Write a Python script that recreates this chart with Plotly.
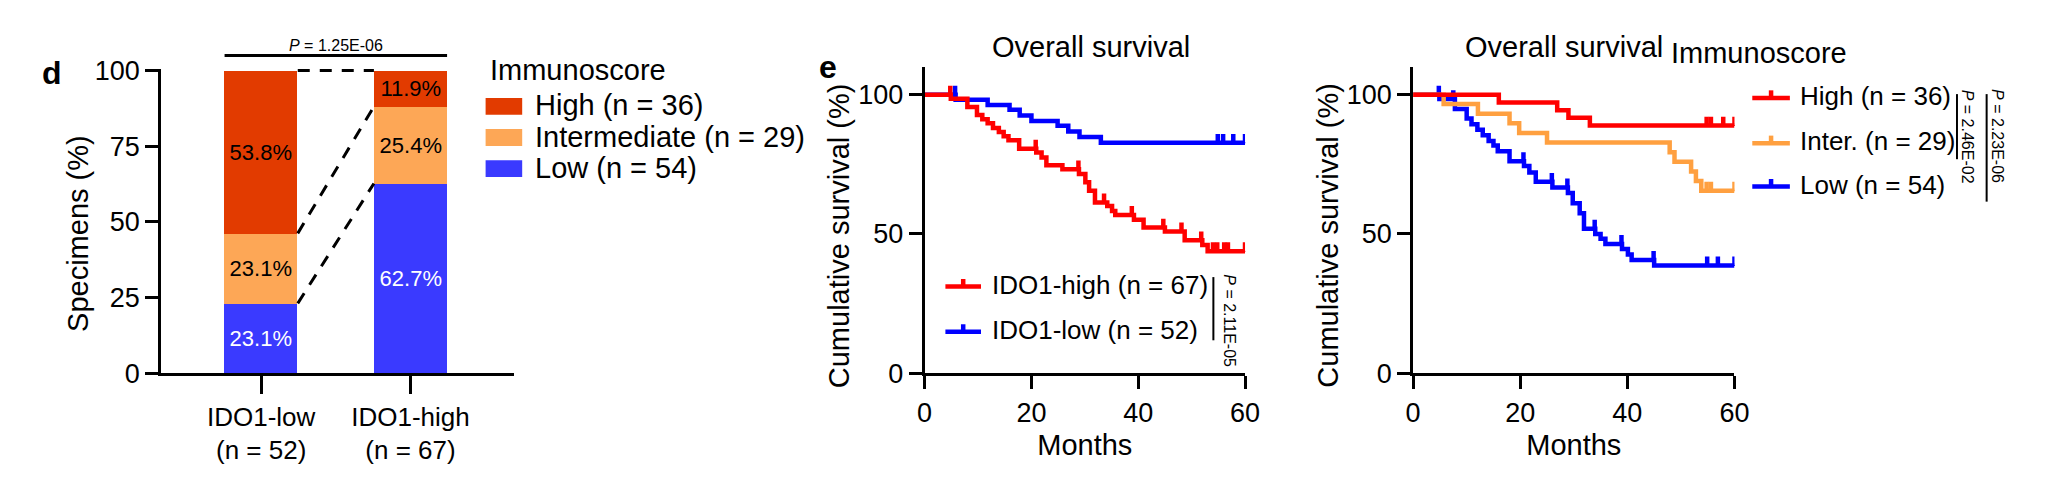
import plotly.graph_objects as go

# ---------------- data ----------------
# Panel d: Immunoscore distribution (%) within IDO1 groups
ido1_groups = ["IDO1-low<br>(n = 52)", "IDO1-high<br>(n = 67)"]
score_names = ["High (n = 36)", "Intermediate (n = 29)", "Low (n = 54)"]
pct_high = [53.8, 11.9]
pct_inter = [23.1, 25.4]
pct_low = [23.1, 62.7]
p_distribution = "1.25E-06"

# Panel e (left): overall survival by IDO1 expression
FOLLOW_UP = 60
ido1_high_name = "IDO1-high (n = 67)"
ido1_high_t = [0, 4.9, 8.0, 9.8, 10.8, 11.8, 12.8, 13.9, 14.8, 15.7, 17.7, 20.9, 21.9, 22.8,
               25.8, 28.9, 30.1, 30.8, 31.9, 34.2, 35.1, 35.7, 39.2, 41.0, 45.0, 48.7, 52.0, 53.0]
ido1_high_s = [100, 98.5, 95.6, 92.7, 91.2, 89.7, 88.0, 86.6, 85.1, 83.6, 80.6, 79.2, 77.4, 74.7,
               73.2, 71.5, 68.6, 65.5, 61.3, 60.0, 58.2, 56.8, 55.1, 52.3, 50.9, 47.7, 46.0, 43.8]
ido1_high_cens = [4.8, 20.8, 28.8, 33.6, 38.8, 44.7, 48.1, 51.8, 54.0, 54.8, 56.1, 56.8, 60]

ido1_low_name = "IDO1-low (n = 52)"
ido1_low_t = [0, 5.8, 11.8, 15.9, 17.8, 20.0, 24.9, 26.9, 29.0, 33.0]
ido1_low_s = [100, 98.2, 96.3, 94.6, 92.5, 90.5, 88.8, 86.8, 84.8, 82.7]
ido1_low_cens = [5.7, 54.9, 55.9, 57.8, 60]
p_ido1 = "2.11E-05"

# Panel e (right): overall survival by Immunoscore
is_high_name = "High (n = 36)"
is_high_t = [0, 16.0, 26.9, 29.0, 33.0]
is_high_s = [100, 97.2, 94.4, 91.7, 88.9]
is_high_cens = [54.8, 55.6, 57.9, 60]

is_inter_name = "Inter. (n = 29)"
is_inter_t = [0, 5.7, 12.1, 18.0, 19.8, 25.0, 47.9, 48.8, 51.9, 52.8, 53.8]
is_inter_s = [100, 96.6, 93.1, 89.7, 86.2, 82.8, 79.3, 75.9, 72.4, 69.0, 65.5]
is_inter_cens = [54.8, 55.6, 60]

is_low_name = "Low (n = 54)"
is_low_t = [0, 4.9, 7.8, 10.0, 10.9, 12.0, 13.0, 14.1, 15.0, 15.8, 18.0, 20.7, 21.7, 22.9, 26.0,
            28.9, 29.8, 31.1, 31.9, 34.0, 35.0, 35.9, 39.0, 40.1, 40.8, 45.0]
is_low_s = [100, 98.4, 94.8, 91.4, 89.4, 87.4, 85.4, 83.4, 81.7, 79.7, 76.1, 74.4, 72.1, 68.7, 66.7,
            64.7, 61.0, 57.4, 51.9, 50.0, 48.3, 46.4, 44.6, 42.6, 40.7, 38.7]
is_low_cens = [4.8, 7.5, 20.6, 25.9, 28.8, 33.9, 38.9, 44.9, 54.9, 56.9, 60]
p_high_vs_inter = "2.46E-02"
p_high_vs_low = "2.23E-06"

# ---------------- style ----------------
W, H = 2058, 493
FONT = "Liberation Sans, Arial, sans-serif"
C_HIGH, C_INTER, C_LOW = "#E23B00", "#FDA756", "#3A3AFF"
K_RED, K_ORANGE, K_BLUE = "#FF0000", "#FFA040", "#0000FF"
LW = 4.5
TICK_H = 3.2  # censor tick height, data units


def fx(p):
    return p / W


def fy(p):
    return 1 - p / H


def surv_at(t, times, surv):
    v = surv[0]
    for ti, si in zip(times, surv):
        if ti <= t:
            v = si
    return v


fig = go.Figure()

# ---- panel d: stacked bars ----
BAR_W = 0.49
for vals, name, col, tcol in [(pct_low, score_names[2], C_LOW, "white"),
                              (pct_inter, score_names[1], C_INTER, "black"),
                              (pct_high, score_names[0], C_HIGH, "black")]:
    fig.add_trace(go.Bar(
        x=ido1_groups, y=vals, name=name, width=BAR_W, marker=dict(color=col, line=dict(width=0)),
        texttemplate="%{y:.1f}%", textposition="inside", insidetextanchor="middle",
        textangle=0, constraintext="none", textfont=dict(size=22, color=tcol, family=FONT),
        showlegend=False, xaxis="x", yaxis="y"))

# dashed connectors between the two bars
bound_low = [pct_low[0], pct_low[1]]
bound_inter = [pct_low[0] + pct_inter[0], pct_low[1] + pct_inter[1]]
bound_top = [bound_inter[0] + pct_high[0], bound_inter[1] + pct_high[1]]
shapes = []
for b in (bound_low, bound_inter, bound_top):
    shapes.append(dict(type="line", xref="x", yref="y", x0=0 + BAR_W / 2, x1=1 - BAR_W / 2,
                       y0=b[0], y1=b[1], line=dict(color="black", width=3, dash="12px,10px")))
# significance bracket
shapes.append(dict(type="line", xref="x", yref="paper", x0=-BAR_W / 2, x1=1 + BAR_W / 2,
                   y0=fy(45), y1=fy(45), line=dict(color="black", width=3)))


# ---- KM curves ----
def km(times, surv, cens, color, name, xa, ya):
    fig.add_trace(go.Scatter(
        x=times + [FOLLOW_UP], y=surv + [surv[-1]], mode="lines", name=name,
        line=dict(shape="hv", width=LW, color=color), showlegend=False, xaxis=xa, yaxis=ya))
    cy = [surv_at(t, times, surv) for t in cens]
    fig.add_trace(go.Scatter(
        x=cens, y=cy, mode="markers", marker=dict(size=1, color=color), cliponaxis=False,
        error_y=dict(type="data", symmetric=False, array=[TICK_H] * len(cens),
                     arrayminus=[0] * len(cens), thickness=LW, width=0, color=color),
        showlegend=False, hoverinfo="skip", xaxis=xa, yaxis=ya))


km(ido1_low_t, ido1_low_s, ido1_low_cens, K_BLUE, ido1_low_name, "x2", "y2")
km(ido1_high_t, ido1_high_s, ido1_high_cens, K_RED, ido1_high_name, "x2", "y2")
km(is_low_t, is_low_s, is_low_cens, K_BLUE, is_low_name, "x3", "y3")
km(is_inter_t, is_inter_s, is_inter_cens, K_ORANGE, is_inter_name, "x3", "y3")
km(is_high_t, is_high_s, is_high_cens, K_RED, is_high_name, "x3", "y3")

# ---- axes ----
axis_common = dict(showline=True, linewidth=3, linecolor="black", ticks="outside", tickwidth=3,
                   tickcolor="black", showgrid=False, zeroline=False,
                   tickfont=dict(size=27, color="black", family=FONT))
title_font = dict(size=29, color="black", family=FONT)

fig.update_layout(
    xaxis=dict(**axis_common, domain=[fx(155), fx(512)], anchor="y", type="category",
               range=[-0.669, 1.695], ticklen=18),
    yaxis=dict(**axis_common, domain=[fy(382), fy(59)], anchor="x", range=[0, 100.6],
               tickvals=[0, 25, 50, 75, 100], ticklen=13),
    xaxis2=dict(**axis_common, domain=[fx(927), fx(1251)], anchor="y2", range=[0, 60],
                tickvals=[0, 20, 40, 60], ticklen=13,
                title=dict(text="Months", font=title_font, standoff=8)),
    yaxis2=dict(**axis_common, domain=[fy(382), fy(57)], anchor="x2", range=[0, 110],
                tickvals=[0, 50, 100], ticklen=13),
    xaxis3=dict(**axis_common, domain=[fx(1421), fx(1746)], anchor="y3", range=[0, 60],
                tickvals=[0, 20, 40, 60], ticklen=13,
                title=dict(text="Months", font=title_font, standoff=8)),
    yaxis3=dict(**axis_common, domain=[fy(382), fy(57)], anchor="x3", range=[0, 110],
                tickvals=[0, 50, 100], ticklen=13),
)
fig.layout.xaxis.tickfont.size = 26

# ---- annotations & legend drawings ----
ann = []


def text(x, y, s, size, xanchor="left", yanchor="middle", bold=False, angle=0):
    if bold:
        s = "<b>" + s + "</b>"
    ann.append(dict(x=fx(x), y=fy(y), xref="paper", yref="paper", text=s, showarrow=False,
                    xanchor=xanchor, yanchor=yanchor, textangle=angle,
                    font=dict(size=size, color="black", family=FONT)))


# y-axis titles (centred on the 0-100 part of each axis, as in the original)
text(70, 234, "Specimens (%)", 29, xanchor="center", angle=-90)
text(840, 236, "Cumulative survival (%)", 29, xanchor="center", angle=-90)
text(1335, 236, "Cumulative survival (%)", 29, xanchor="center", angle=-90)

text(44, 64, "d", 32, xanchor="center", bold=True)
text(829, 57, "e", 32, xanchor="center", bold=True)
text(332, 34, "<i>P</i> = " + p_distribution, 16, xanchor="center")

# panel d legend
text(485, 60, "Immunoscore", 29)
for i, (nm, col) in enumerate([(score_names[0], C_HIGH), (score_names[1], C_INTER),
                               (score_names[2], C_LOW)]):
    yc = 99 + 33 * i
    shapes.append(dict(type="rect", xref="paper", yref="paper", x0=fx(483), x1=fx(520),
                       y0=fy(yc + 9), y1=fy(yc - 9), fillcolor=col, line=dict(width=0)))
    text(531, yc - 1, nm, 29)

# panel e titles
text(1095, 36, "Overall survival", 29, xanchor="center")
text(1574, 36, "Overall survival", 29, xanchor="center")
text(1680, 42, "Immunoscore", 29)


def line_legend(x0, x1, yc, col, label, tx, size):
    shapes.append(dict(type="line", xref="paper", yref="paper", x0=fx(x0), x1=fx(x1),
                       y0=fy(yc), y1=fy(yc), line=dict(color=col, width=LW)))
    xm = (x0 + x1) / 2
    shapes.append(dict(type="line", xref="paper", yref="paper", x0=fx(xm), x1=fx(xm),
                       y0=fy(yc), y1=fy(yc - 8), line=dict(color=col, width=LW)))
    text(tx, yc - 2, label, size)


line_legend(948, 984, 290, K_RED, ido1_high_name, 993, 26)
line_legend(948, 984, 338, K_BLUE, ido1_low_name, 993, 26)
shapes.append(dict(type="line", xref="paper", yref="paper", x0=fx(1219), x1=fx(1219),
                   y0=fy(280), y1=fy(347), line=dict(color="black", width=2)))
text(1235, 326, "<i>P</i> = " + p_ido1, 16, xanchor="center", angle=90)

line_legend(1764, 1802, 90, K_RED, is_high_name, 1810, 26)
line_legend(1764, 1802, 138, K_ORANGE, is_inter_name, 1810, 26)
line_legend(1764, 1802, 184, K_BLUE, is_low_name, 1810, 26)
shapes.append(dict(type="line", xref="paper", yref="paper", x0=fx(1971), x1=fx(1971),
                   y0=fy(86), y1=fy(155), line=dict(color="black", width=2)))
shapes.append(dict(type="line", xref="paper", yref="paper", x0=fx(2001), x1=fx(2001),
                   y0=fy(86), y1=fy(200), line=dict(color="black", width=2)))
text(1982, 131, "<i>P</i> = " + p_high_vs_inter, 16, xanchor="center", angle=90)
text(2012, 130, "<i>P</i> = " + p_high_vs_low, 16, xanchor="center", angle=90)

fig.update_layout(
    width=W, height=H, autosize=False, margin=dict(l=0, r=0, t=0, b=0),
    paper_bgcolor="white", plot_bgcolor="white", barmode="stack", bargap=0,
    font=dict(family=FONT, color="black"), showlegend=False,
    shapes=shapes, annotations=ann,
)

fig.write_html("out.html", config={"displayModeBar": False},
               post_script="document.body.style.margin='0';document.body.style.overflow='hidden';")
